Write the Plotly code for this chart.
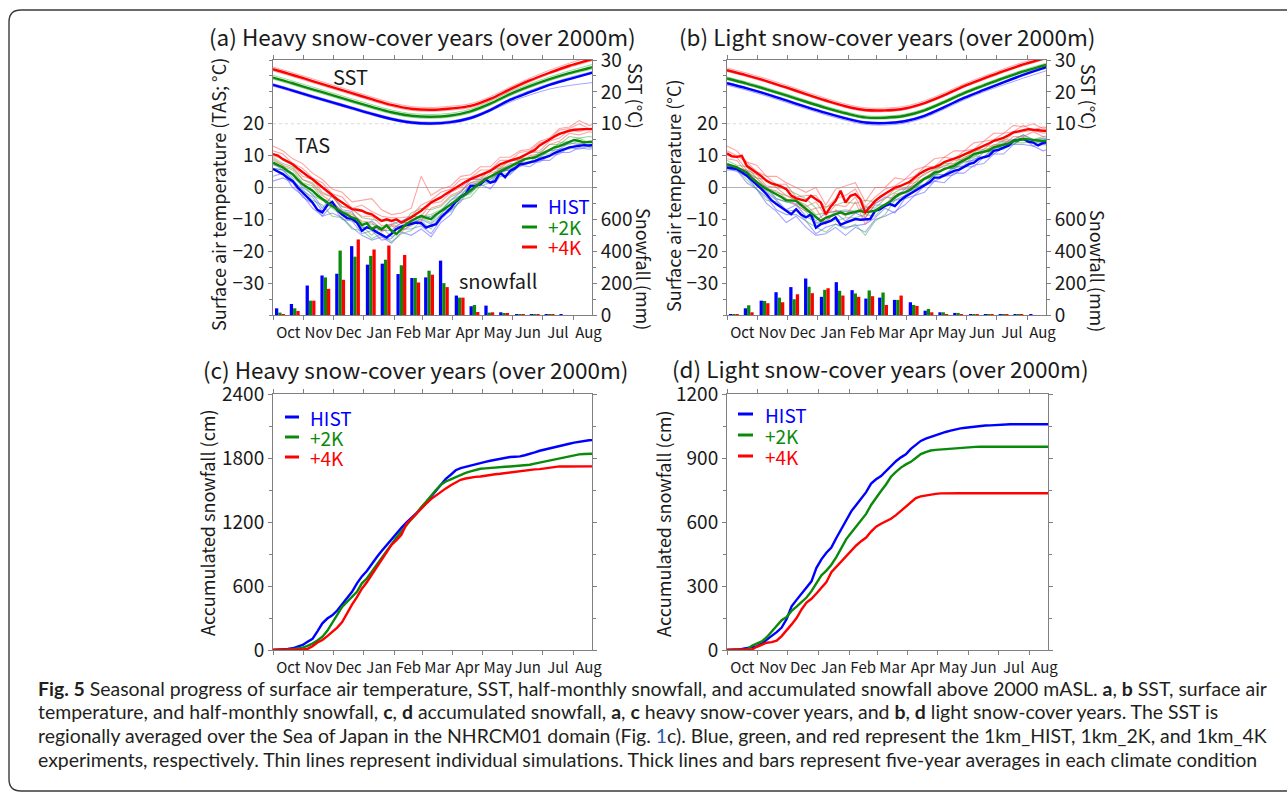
import plotly.graph_objects as go
import pandas as pd

W, H = 1287, 795
FONT = "Noto Sans CJK JP"
CAP_FONT = "Lato"
TXT = "#1a1a1a"
FRAME = "#808080"
BLUE, GREEN, RED = "#0000ff", "#0a8a0a", "#ff0000"
THIN_BLUE = "rgba(90,90,255,0.55)"
THIN_GREEN = "rgba(60,175,60,0.50)"
THIN_RED = "rgba(255,90,90,0.55)"

# ---------------- time coordinates ----------------
START = "2000-10-01"
X_RANGE = ["2000-10-01", "2001-08-20"]
DAYS5 = pd.date_range(START, periods=66, freq="5D")
DAYS10 = pd.date_range(START, periods=34, freq="10D")
DAYS20 = pd.date_range(START, periods=18, freq="20D")
HALF_MONTHS = pd.to_datetime([
    "2000-10-08", "2000-10-23", "2000-11-08", "2000-11-23", "2000-12-08", "2000-12-23",
    "2001-01-08", "2001-01-23", "2001-02-08", "2001-02-22", "2001-03-08", "2001-03-23",
    "2001-04-08", "2001-04-23", "2001-05-08", "2001-05-23", "2001-06-08", "2001-06-23",
    "2001-07-08", "2001-07-23", "2001-08-08"])
EXPERIMENTS = ["HIST", "+2K", "+4K"]

# ---------------- panel (a): heavy snow-cover years ----------------
TAS_A_HIST = [5.8, 5.0, 4.2, 3.0, 2.0, 0.0, -1.5, -3.0, -4.7, -7.0, -7.8, -5.5, -4.5, -7.0, -8.5, -9.6,
              -9.8, -11.0, -13.6, -12.5, -13.0, -14.0, -14.8, -15.7, -14.5, -13.0, -12.3, -11.8, -11.5,
              -11.0, -11.2, -12.6, -12.0, -11.5, -9.4, -7.8, -6.5, -4.5, -3.0, -2.0, 0.5, 0.6, 1.0, 2.6,
              1.5, 2.0, 4.7, 3.2, 5.2, 6.0, 7.3, 7.5, 7.8, 8.3, 8.9, 9.3, 9.9, 10.8, 11.5, 12.0, 12.6,
              12.8, 13.1, 13.3, 13.2, 13.4]
TAS_A_2K = [7.8, 7.0, 6.3, 5.2, 4.2, 2.5, 1.0, 0.0, -1.0, -2.5, -3.7, -4.8, -5.8, -6.8, -7.8, -8.5,
            -9.4, -10.0, -11.8, -11.2, -13.0, -12.2, -13.2, -11.8, -13.6, -14.6, -13.0, -11.5, -10.5,
            -9.8, -8.9, -9.5, -9.9, -8.5, -7.5, -6.3, -5.3, -4.2, -3.0, -2.1, -0.8, 0.5, 1.5, 2.6, 3.5,
            4.2, 5.0, 5.8, 6.5, 7.3, 8.0, 8.9, 9.2, 9.4, 10.2, 11.0, 11.8, 12.6, 13.0, 13.6, 14.2, 14.9,
            14.6, 14.1, 14.3, 14.4]
TAS_A_4K = [10.5, 10.0, 8.9, 8.0, 7.3, 6.0, 4.7, 3.6, 2.6, 1.3, 0.0, -1.3, -2.6, -3.7, -4.7, -5.8,
            -6.8, -7.0, -7.3, -8.0, -8.4, -9.5, -10.5, -10.0, -10.5, -10.0, -11.0, -10.2, -9.4, -8.3,
            -7.3, -6.0, -4.7, -3.9, -3.1, -2.0, -1.0, 0.0, 1.0, 1.8, 2.6, 3.3, 4.0, 4.6, 5.2, 6.3, 7.3,
            7.9, 8.4, 8.9, 9.4, 10.2, 11.0, 11.8, 13.2, 14.2, 15.2, 16.0, 16.8, 17.4, 17.8, 18.1, 18.3,
            18.3, 18.3, 18.3]

TAS_A_HIST_MEMBERS = [
    [3.5, 4.5, 0.0, -2.5, -6.5, -9.0, -8.0, -9.5, -12.5, -15.0, -16.5, -15.5, -17.5, -14.0, -15.0, -13.0, -15.5,
     -11.0, -8.5, -3.5, -1.5, 1.0, -0.5, 3.5, 4.0, 7.0, 6.5, 8.5, 8.5, 11.0, 11.0, 12.5, 12.0, 12.5],
    [7.5, 5.5, 4.0, 0.0, -2.0, -6.5, -2.5, -7.0, -7.5, -12.0, -10.5, -13.0, -11.5, -10.5, -9.0, -9.5, -9.0,
     -7.5, -4.0, -1.5, 2.5, 2.5, 3.5, 5.5, 7.0, 8.0, 9.5, 9.5, 11.5, 12.0, 14.0, 13.5, 14.5, 14.0],
    [2.0, 3.0, 1.5, -3.0, -5.0, -9.0, -5.5, -10.0, -10.5, -14.5, -13.5, -16.5, -16.0, -13.0, -13.0, -12.0, -14.5,
     -10.0, -7.0, -4.5, 0.0, 1.0, 2.5, 4.5, 6.0, 6.5, 8.0, 8.0, 10.0, 10.5, 12.5, 12.0, 13.0, 12.0],
    [6.0, 5.5, 2.5, -1.0, -3.0, -7.5, -4.5, -8.0, -9.5, -12.5, -12.5, -13.5, -13.5, -11.0, -11.0, -10.0, -11.5,
     -8.5, -5.0, -2.5, 1.0, 1.5, 1.5, 5.0, 5.5, 7.5, 8.0, 9.0, 10.0, 12.0, 12.5, 13.5, 13.0, 13.5],
]
TAS_A_2K_MEMBERS = [
    [6.0, 5.5, 2.0, -0.5, -4.0, -5.5, -9.0, -9.5, -13.0, -13.5, -16.0, -14.5, -17.0, -14.5, -13.5, -10.5, -13.0,
     -8.5, -7.5, -4.0, -3.0, 0.5, 1.5, 4.0, 4.5, 7.0, 7.5, 9.5, 10.0, 12.0, 12.0, 14.0, 12.5, 13.0],
    [9.5, 7.5, 6.5, 2.5, 1.5, -2.0, -3.0, -6.0, -6.5, -9.5, -10.0, -10.5, -10.5, -12.0, -8.0, -6.5, -7.0,
     -6.0, -3.0, -1.5, 1.5, 2.5, 5.5, 6.0, 8.5, 9.0, 11.0, 11.0, 13.5, 13.5, 16.0, 15.5, 16.0, 15.5],
    [8.5, 7.0, 3.0, 1.0, -2.5, -4.0, -6.5, -8.5, -10.5, -12.0, -15.0, -12.5, -15.5, -13.5, -12.0, -9.5, -11.0,
     -7.5, -6.5, -3.0, -2.0, 1.5, 2.5, 5.0, 5.5, 8.0, 8.0, 10.5, 10.5, 13.0, 13.5, 14.5, 14.0, 14.5],
    [7.0, 6.5, 5.5, 1.5, 0.5, -3.5, -4.5, -7.5, -8.0, -11.0, -11.5, -12.5, -12.0, -12.5, -9.0, -9.0, -8.5,
     -7.0, -4.0, -2.5, 0.5, 2.0, 3.5, 6.0, 6.5, 9.0, 9.0, 11.0, 11.5, 14.0, 14.5, 15.5, 14.0, 14.5],
]
TAS_A_4K_MEMBERS = [
    [13.0, 11.5, 9.0, 7.5, 4.5, 2.5, -0.5, -1.5, -4.5, -4.0, -3.5, -7.0, -8.5, -8.0, -6.5, 3.5, -2.5,
     -0.5, 0.5, 3.5, 4.0, 6.5, 6.5, 9.5, 9.5, 11.5, 12.0, 14.5, 15.5, 18.5, 19.0, 21.0, 19.5, 20.0],
    [9.0, 7.0, 6.0, 2.5, 1.0, -2.5, -4.5, -7.5, -8.5, -10.5, -11.0, -14.0, -12.0, -14.0, -11.5, -10.5, -6.5,
     -5.5, -2.5, -1.0, 1.5, 2.0, 4.5, 5.5, 7.5, 7.5, 10.0, 10.5, 13.5, 14.5, 17.0, 16.5, 17.5, 17.0],
    [11.5, 10.5, 7.5, 6.0, 3.0, 1.5, -2.0, -3.0, -6.5, -5.5, -7.5, -9.0, -9.5, -9.5, -9.0, -5.5, -4.0,
     -1.5, -0.5, 2.5, 3.0, 5.5, 5.5, 8.5, 8.5, 11.0, 11.5, 14.0, 15.0, 18.0, 18.5, 20.0, 18.5, 19.0],
    [10.0, 9.0, 7.0, 3.5, 2.5, -1.5, -3.0, -6.0, -7.0, -9.0, -9.0, -12.0, -11.5, -12.5, -10.0, -9.0, -5.0,
     -4.5, -1.5, 0.0, 2.5, 3.0, 5.5, 6.5, 8.5, 8.5, 11.0, 11.5, 14.5, 15.5, 18.0, 17.5, 18.5, 18.5],
]

SST_A_HIST = [22.2, 20.4, 18.5, 16.7, 14.9, 13.1, 11.5, 10.4, 10.1, 10.5, 11.8, 14.3, 17.5, 19.9, 22.2, 24.0, 25.7, 27.5]
SST_A_2K = [24.5, 22.7, 20.8, 19.0, 17.1, 15.3, 13.6, 12.5, 12.2, 12.6, 13.9, 16.3, 19.3, 21.8, 24.0, 25.9, 27.5, 29.2]
SST_A_4K = [27.1, 25.3, 23.4, 21.5, 19.6, 17.7, 15.9, 14.7, 14.4, 14.8, 15.6, 17.8, 20.8, 23.6, 26.0, 28.2, 30.0, 31.8]
SST_A_HIST_MEMBERS = [
    [21.8, 20.0, 18.1, 16.3, 14.5, 12.7, 11.1, 10.0, 9.7, 10.1, 11.4, 13.9, 16.8, 19.0, 20.9, 22.0, 22.8, 23.6],
    [22.6, 20.8, 18.9, 17.1, 15.3, 13.5, 11.9, 10.8, 10.5, 10.9, 12.2, 14.7, 17.9, 20.4, 22.6, 24.5, 26.1, 27.8],
]
SST_A_2K_MEMBERS = [
    [25.2, 23.4, 21.5, 19.7, 17.8, 16.0, 14.3, 13.2, 12.9, 13.3, 14.6, 17.0, 20.0, 22.5, 24.7, 26.6, 28.3, 30.0],
    [24.0, 22.2, 20.3, 18.5, 16.6, 14.8, 13.1, 12.0, 11.7, 12.1, 13.4, 15.8, 18.8, 21.3, 23.5, 25.4, 26.9, 28.5],
]
SST_A_4K_MEMBERS = [
    [27.8, 26.0, 24.1, 22.2, 20.3, 18.4, 16.6, 15.4, 15.1, 15.5, 16.3, 18.5, 21.5, 24.3, 26.8, 29.0, 30.8, 32.5],
    [26.6, 24.8, 22.9, 21.0, 19.1, 17.2, 15.4, 14.2, 13.9, 14.3, 15.1, 17.3, 20.3, 23.1, 25.6, 27.7, 29.5, 31.2],
]

SNOW_A_HIST = [42, 69, 185, 248, 259, 432, 316, 322, 257, 232, 236, 341, 122, 55, 59, 17, 4, 2, 1, 1, 0]
SNOW_A_2K = [15, 42, 90, 236, 404, 366, 371, 347, 312, 232, 278, 200, 109, 63, 15, 8, 3, 1, 1, 0, 0]
SNOW_A_4K = [4, 25, 90, 164, 221, 474, 411, 436, 377, 204, 253, 175, 109, 19, 17, 8, 3, 2, 1, 0, 0]

# ---------------- panel (b): light snow-cover years ----------------
TAS_B_HIST = [6.3, 6.0, 5.8, 4.8, 3.7, 2.3, 1.0, -0.5, -2.1, -4.0, -5.2, -6.3, -7.5, -8.4, -6.8, -8.5,
              -9.4, -8.4, -12.6, -11.5, -11.0, -10.5, -9.4, -11.7, -11.0, -10.5, -9.9, -10.1, -10.0, -9.9,
              -7.3, -6.8, -5.8, -5.2, -5.8, -4.2, -3.0, -2.1, -1.0, -0.2, 0.8, 1.6, 3.1, 3.1, 3.8, 4.5,
              5.2, 5.6, 6.5, 7.3, 7.8, 9.0, 9.5, 9.9, 11.5, 11.8, 12.5, 13.1, 14.6, 15.0, 15.2, 14.4,
              14.1, 13.2, 14.0, 14.2]
TAS_B_2K = [7.3, 6.8, 6.3, 5.5, 4.7, 3.0, 1.6, 0.5, -0.5, -1.3, -2.1, -3.0, -4.0, -4.2, -4.2, -5.5,
            -6.8, -7.8, -9.4, -10.5, -9.5, -8.9, -8.4, -7.8, -8.4, -8.0, -7.8, -7.3, -7.8, -7.5, -7.3,
            -6.3, -5.5, -4.5, -3.0, -2.0, -1.5, -0.8, 0.5, 1.8, 2.8, 3.5, 4.7, 5.0, 5.8, 6.3, 6.8, 7.8,
            8.6, 9.4, 10.5, 10.8, 11.2, 11.6, 12.6, 13.0, 13.3, 13.8, 14.6, 15.0, 15.2, 15.1, 14.9,
            14.6, 14.6, 14.7]
TAS_B_4K = [10.7, 9.8, 9.6, 9.9, 6.8, 5.7, 4.5, 3.5, 2.1, 1.3, 0.8, 0.3, -0.5, -2.5, -3.4, -3.7, -4.2,
            -2.6, -3.8, -4.7, -8.4, -6.0, -4.2, -1.0, -4.7, -2.6, -2.1, -3.7, -7.8, -6.0, -4.2, -3.0,
            -2.0, -1.2, 0.0, 0.4, 1.0, 1.8, 3.1, 4.3, 5.2, 5.9, 6.3, 7.0, 8.0, 8.5, 8.9, 9.6, 10.3,
            11.0, 11.5, 12.3, 13.0, 13.8, 14.6, 15.0, 15.6, 16.4, 17.3, 17.6, 18.0, 18.3, 18.1, 17.9,
            17.8, 17.8]

TAS_B_HIST_MEMBERS = [
    [5.5, 5.5, 1.5, -0.5, -5.0, -7.5, -11.0, -9.0, -12.5, -15.0, -14.5, -12.5, -15.0, -12.5, -14.0, -10.0, -9.0,
     -7.5, -5.5, -2.5, -1.5, 2.0, 1.5, 4.5, 4.5, 7.0, 7.5, 10.5, 10.5, 13.5, 13.5, 13.0, 11.5, 12.5],
    [7.0, 6.0, 5.5, 2.0, 0.0, -3.5, -4.5, -5.0, -6.5, -10.5, -8.0, -7.5, -7.5, -7.5, -6.5, -5.0, -3.0,
     -3.5, -0.5, 0.0, 2.5, 4.0, 6.0, 6.0, 8.0, 8.5, 11.0, 12.0, 14.0, 15.0, 16.5, 15.0, 15.5, 15.0],
    [6.0, 5.0, 3.5, -0.5, -3.0, -7.0, -8.5, -8.5, -10.5, -14.5, -12.5, -11.5, -12.5, -12.0, -11.5, -9.5, -6.5,
     -8.0, -3.5, -2.5, 0.5, 2.0, 3.5, 4.0, 6.5, 6.5, 9.5, 10.5, 12.5, 13.5, 15.5, 13.0, 13.5, 13.0],
    [6.5, 6.5, 4.0, 2.0, -1.5, -4.0, -7.0, -5.5, -9.0, -11.0, -10.5, -8.0, -10.5, -8.0, -9.5, -5.5, -5.5,
     -4.0, -2.5, 0.0, 1.0, 4.0, 4.0, 6.5, 6.5, 9.0, 9.5, 12.5, 12.5, 15.0, 15.0, 15.0, 14.0, 14.5],
]
TAS_B_2K_MEMBERS = [
    [6.0, 5.5, 2.5, -0.5, -4.0, -4.5, -7.5, -7.0, -10.5, -12.5, -14.0, -11.5, -13.0, -11.5, -15.0, -10.5, -8.5,
     -4.0, -3.5, -0.5, 1.0, 4.0, 4.0, 6.0, 7.0, 10.0, 9.5, 12.0, 12.0, 14.0, 14.0, 14.5, 13.5, 14.0],
    [8.5, 7.0, 6.5, 3.0, 2.5, 0.0, -0.5, -2.0, -3.5, -6.5, -6.0, -5.5, -4.5, -5.0, -4.0, -4.5, -2.0,
     -0.5, 1.0, 1.5, 4.5, 5.5, 7.5, 7.5, 10.5, 11.0, 13.0, 13.0, 15.0, 15.0, 16.5, 15.0, 16.0, 15.5],
    [7.0, 6.0, 4.5, 0.5, -1.0, -3.5, -4.5, -5.5, -7.5, -11.5, -10.5, -10.5, -9.5, -9.5, -8.5, -9.0, -5.5,
     -3.5, -1.5, -0.5, 2.5, 3.5, 6.0, 6.0, 8.5, 9.5, 11.5, 11.5, 13.5, 13.5, 15.5, 14.0, 14.5, 14.0],
    [7.5, 6.5, 5.0, 3.0, 0.0, -1.5, -2.5, -4.0, -5.5, -8.5, -8.0, -7.5, -7.0, -7.5, -6.0, -6.5, -3.5,
     -1.5, 0.0, 0.5, 3.0, 5.0, 7.0, 7.0, 9.5, 10.5, 12.0, 12.5, 14.5, 14.5, 16.0, 14.5, 15.0, 15.0],
]
TAS_B_4K_MEMBERS = [
    [13.0, 11.5, 8.0, 7.0, 3.5, 3.5, 1.5, 0.0, -1.5, 0.0, -5.5, -0.5, 0.5, 1.5, -4.5, 0.0, 0.0,
     3.0, 2.5, 5.5, 6.5, 9.0, 9.5, 11.5, 11.5, 14.0, 14.5, 17.0, 17.0, 19.5, 19.0, 20.0, 18.5, 19.0],
    [9.0, 8.5, 4.5, 3.0, -0.5, -1.0, -3.5, -5.5, -7.5, -6.5, -11.5, -7.0, -9.0, -4.5, -11.5, -7.0, -5.5,
     -2.0, -1.5, 1.5, 3.0, 5.0, 5.5, 7.5, 8.0, 10.5, 11.0, 13.5, 13.5, 16.0, 16.0, 17.5, 16.0, 16.5],
    [11.5, 10.0, 8.0, 5.0, 3.5, 1.0, 1.0, -3.0, -2.5, -2.5, -6.5, -3.5, -2.5, -0.5, -6.0, -3.0, -0.5,
     0.5, 2.5, 3.5, 6.5, 6.5, 9.5, 9.0, 11.5, 12.0, 14.5, 15.0, 17.0, 17.5, 19.5, 18.0, 19.0, 18.5],
    [10.0, 9.5, 5.5, 4.0, 0.5, 0.0, -2.5, -4.0, -6.0, -4.5, -9.0, -5.5, -6.0, -3.0, -9.5, -5.0, -3.5,
     -0.5, -0.5, 2.5, 4.0, 6.0, 6.5, 8.5, 9.0, 11.5, 12.0, 14.5, 14.5, 17.0, 17.5, 18.0, 17.0, 17.5],
]

SST_B_HIST = [22.7, 21.1, 19.3, 17.3, 15.3, 13.4, 11.7, 10.4, 10.2, 10.8, 12.5, 15.2, 18.1, 20.6, 23.0, 25.3, 27.4, 29.4]
SST_B_2K = [24.2, 22.6, 20.8, 18.9, 16.9, 15.0, 13.3, 12.0, 11.9, 12.5, 14.2, 16.8, 19.6, 22.0, 24.3, 26.4, 28.2, 30.0]
SST_B_4K = [26.8, 25.2, 23.4, 21.4, 19.3, 17.3, 15.5, 14.3, 14.2, 14.8, 16.5, 19.0, 21.8, 24.2, 26.5, 28.6, 30.4, 32.2]
SST_B_HIST_MEMBERS = [
    [22.1, 20.5, 18.7, 16.7, 14.7, 12.8, 11.1, 9.8, 9.6, 10.2, 11.9, 14.6, 17.5, 20.0, 22.2, 24.3, 26.3, 28.2],
    [23.0, 21.4, 19.6, 17.6, 15.6, 13.7, 12.0, 10.7, 10.5, 11.1, 12.8, 15.5, 18.4, 20.9, 23.3, 25.6, 27.7, 29.7],
]
SST_B_2K_MEMBERS = [
    [24.7, 23.1, 21.3, 19.4, 17.4, 15.5, 13.8, 12.5, 12.4, 13.0, 14.7, 17.3, 20.1, 22.5, 24.8, 26.9, 28.7, 30.5],
    [23.8, 22.2, 20.4, 18.5, 16.5, 14.6, 12.9, 11.6, 11.5, 12.1, 13.8, 16.4, 19.2, 21.6, 23.9, 26.0, 27.8, 29.6],
]
SST_B_4K_MEMBERS = [
    [27.5, 25.9, 24.1, 22.1, 20.0, 18.0, 16.2, 15.0, 14.9, 15.5, 17.2, 19.7, 22.5, 24.9, 27.2, 29.3, 31.1, 32.9],
    [26.4, 24.8, 23.0, 21.0, 18.9, 16.9, 15.1, 13.9, 13.8, 14.4, 16.1, 18.6, 21.4, 23.8, 26.1, 28.2, 30.0, 31.8],
]

SNOW_B_HIST = [6, 42, 90, 143, 175, 229, 114, 206, 156, 103, 109, 95, 80, 27, 17, 13, 6, 3, 2, 1, 1]
SNOW_B_2K = [2, 61, 88, 109, 99, 177, 158, 152, 135, 154, 141, 95, 63, 38, 17, 13, 4, 2, 1, 1, 0]
SNOW_B_4K = [2, 17, 74, 80, 130, 137, 168, 122, 114, 118, 63, 122, 57, 17, 6, 6, 3, 2, 1, 1, 0]

# ---------------- panel (c): accumulated snowfall, heavy years ----------------
ACC_C_HIST = [0, 2, 6, 10, 16, 28, 47, 78, 105, 175, 250, 295, 325, 370, 430, 482, 545, 625, 690, 740,
              810, 870, 928, 985, 1040, 1090, 1145, 1195, 1235, 1280, 1330, 1375, 1437, 1495, 1555, 1605,
              1643, 1685, 1705, 1718, 1730, 1741, 1752, 1763, 1774, 1784, 1793, 1801, 1809, 1812, 1815,
              1826, 1837, 1852, 1868, 1880, 1893, 1904, 1915, 1925, 1934, 1944, 1953, 1960, 1966, 1968]
ACC_C_2K = [0, 0, 2, 4, 8, 14, 22, 38, 60, 90, 125, 180, 260, 330, 405, 455, 495, 545, 625, 670, 735,
            800, 860, 930, 995, 1055, 1110, 1170, 1225, 1275, 1339, 1390, 1448, 1500, 1549, 1580, 1600,
            1620, 1643, 1660, 1674, 1688, 1699, 1703, 1705, 1710, 1715, 1718, 1721, 1724, 1727, 1732,
            1737, 1748, 1758, 1768, 1777, 1788, 1799, 1810, 1821, 1828, 1834, 1838, 1840, 1841]
ACC_C_4K = [0, 0, 1, 2, 3, 4, 5, 10, 35, 70, 94, 130, 170, 210, 262, 345, 425, 495, 575, 635, 705, 775,
            845, 915, 985, 1030, 1080, 1180, 1230, 1270, 1320, 1372, 1415, 1450, 1486, 1515, 1545, 1572,
            1596, 1608, 1618, 1623, 1627, 1636, 1643, 1648, 1652, 1658, 1665, 1672, 1680, 1685, 1690,
            1693, 1696, 1704, 1712, 1717, 1721, 1721, 1722, 1722, 1722, 1722, 1722, 1722]

# ---------------- panel (d): accumulated snowfall, light years ----------------
ACC_D_HIST = [0, 0, 2, 5, 8, 11, 17, 30, 50, 66, 84, 105, 145, 205, 235, 265, 292, 322, 385, 425, 456,
              480, 525, 568, 605, 650, 680, 712, 740, 780, 800, 815, 840, 865, 885, 903, 917, 943, 962,
              980, 991, 999, 1008, 1015, 1022, 1028, 1034, 1039, 1042, 1045, 1047, 1050, 1052, 1053, 1055,
              1056, 1057, 1058, 1058, 1058, 1058, 1058, 1058, 1058, 1058, 1058]
ACC_D_2K = [0, 0, 0, 1, 3, 20, 30, 40, 60, 88, 112, 140, 155, 183, 203, 225, 246, 276, 310, 350, 372,
            400, 435, 480, 520, 550, 580, 610, 638, 680, 715, 745, 776, 812, 835, 855, 870, 882, 900, 918,
            928, 935, 938, 940, 942, 944, 947, 949, 950, 951, 952, 953, 953, 953, 953, 953, 953, 953, 953,
            953, 953, 953, 953, 953, 953, 953]
ACC_D_4K = [0, 0, 0, 0, 0, 2, 15, 25, 34, 37, 44, 65, 90, 120, 150, 190, 222, 240, 265, 292, 318, 365,
            390, 420, 440, 465, 490, 510, 527, 555, 578, 592, 603, 615, 632, 652, 668, 692, 712, 720, 725,
            730, 732, 734, 735, 735, 735, 735, 735, 735, 735, 735, 735, 735, 735, 735, 735, 735, 735, 735,
            735, 735, 735, 735, 735, 735]

TAS_TICKS = [-30, -20, -10, 0, 10, 20]
SST_TICKS = [10, 20, 30]
SNOW_TICKS = [0, 200, 400, 600]
ACC_C_TICKS = [0, 600, 1200, 1800, 2400]
ACC_D_TICKS = [0, 300, 600, 900, 1200]

# ---------------- figure ----------------
fig = go.Figure()


def add_line(x, y, color, width, xa, ya, shape="linear"):
    fig.add_trace(go.Scatter(x=x, y=y, mode="lines", xaxis=xa, yaxis=ya,
                             line=dict(color=color, width=width, shape=shape),
                             showlegend=False, hoverinfo="skip"))


BAR_W = 3.33 * 86400000
BAR_OFFSETS = [-1.5 * BAR_W, -0.5 * BAR_W, 0.5 * BAR_W]


def add_panel_top(xa, ya_tas, ya_sst, ya_snow, sst, sst_members, tas, tas_members, snow):
    thin = [THIN_BLUE, THIN_GREEN, THIN_RED]
    thick = [BLUE, GREEN, RED]
    for k in range(3):
        for m in sst_members[k]:
            add_line(DAYS20, m, thin[k], 1, xa, ya_sst, "spline")
    for k in range(3):
        add_line(DAYS20, sst[k], thick[k], 2.4, xa, ya_sst, "spline")
    for k in range(3):
        for m in tas_members[k]:
            add_line(DAYS10, m, thin[k], 1.1, xa, ya_tas)
    for k in range(3):
        add_line(DAYS5, tas[k], thick[k], 2.4, xa, ya_tas)
    for k in range(3):
        fig.add_trace(go.Bar(x=HALF_MONTHS, y=snow[k], width=BAR_W, offset=BAR_OFFSETS[k],
                             marker=dict(color=thick[k], line=dict(width=0)), xaxis=xa, yaxis=ya_snow,
                             showlegend=False, hoverinfo="skip", name=EXPERIMENTS[k]))


add_panel_top("x", "y", "y2", "y3",
              [SST_A_HIST, SST_A_2K, SST_A_4K],
              [SST_A_HIST_MEMBERS, SST_A_2K_MEMBERS, SST_A_4K_MEMBERS],
              [TAS_A_HIST, TAS_A_2K, TAS_A_4K],
              [TAS_A_HIST_MEMBERS, TAS_A_2K_MEMBERS, TAS_A_4K_MEMBERS],
              [SNOW_A_HIST, SNOW_A_2K, SNOW_A_4K])
add_panel_top("x2", "y4", "y5", "y6",
              [SST_B_HIST, SST_B_2K, SST_B_4K],
              [SST_B_HIST_MEMBERS, SST_B_2K_MEMBERS, SST_B_4K_MEMBERS],
              [TAS_B_HIST, TAS_B_2K, TAS_B_4K],
              [TAS_B_HIST_MEMBERS, TAS_B_2K_MEMBERS, TAS_B_4K_MEMBERS],
              [SNOW_B_HIST, SNOW_B_2K, SNOW_B_4K])

for acc, xa, ya in [([ACC_C_HIST, ACC_C_2K, ACC_C_4K], "x3", "y7"),
                    ([ACC_D_HIST, ACC_D_2K, ACC_D_4K], "x4", "y8")]:
    for k, col in enumerate([BLUE, GREEN, RED]):
        add_line(DAYS5, acc[k], col, 2.4, xa, ya)


def px(x):
    return x / W


def py(y):
    return 1 - y / H


TICKFONT = dict(family=FONT, size=19, color=TXT)


def xaxis(dom, anchor):
    return dict(domain=[px(dom[0]), px(dom[1])], anchor=anchor, type="date", range=X_RANGE,
                dtick="M1", tick0="2000-10-01", tickformat="%b", ticklabelmode="period",
                tickangle=0, ticks="outside", ticklen=4, tickcolor=FRAME, showline=True,
                linecolor=FRAME, linewidth=1, mirror="allticks", showgrid=False, zeroline=False,
                automargin=False, tickfont=dict(family=FONT, size=15, color=TXT))


def yaxis_main(dom, anchor, rng, vals, minor_dtick, zeroline=False):
    return dict(domain=[py(dom[1]), py(dom[0])], anchor=anchor, range=rng, tickmode="array",
                tickvals=vals, ticks="outside", ticklen=4, tickcolor=FRAME, showline=True,
                linecolor=FRAME, linewidth=1, mirror="allticks", showgrid=False,
                zeroline=zeroline, zerolinecolor="#b4b4b4", zerolinewidth=1, automargin=False,
                minor=dict(tickmode="linear", tick0=rng[0], dtick=minor_dtick, ticks="outside",
                           ticklen=3, tickcolor=FRAME),
                tickfont=TICKFONT)


def yaxis_right(anchor, over, rng, vals):
    return dict(anchor=anchor, overlaying=over, side="right", range=rng, tickmode="array",
                tickvals=vals, ticks="outside", ticklen=4, tickcolor=FRAME, showline=False,
                showgrid=False, zeroline=False, automargin=False, tickfont=TICKFONT)


TOP = (60, 315)
BOT = (394, 650)
fig.update_layout(
    width=W, height=H, autosize=False,
    margin=dict(l=0, r=0, t=0, b=0, pad=0, autoexpand=False),
    paper_bgcolor="white", plot_bgcolor="white", barmode="overlay", showlegend=False,
    font=dict(family=FONT, color=TXT),
    xaxis=xaxis((273, 592), "y"),
    yaxis=yaxis_main(TOP, "x", [-40, 40], TAS_TICKS, 5, zeroline=True),
    yaxis2=yaxis_right("x", "y", [-50, 30], SST_TICKS),
    yaxis3=yaxis_right("x", "y", [0, 1600], SNOW_TICKS),
    xaxis2=xaxis((727, 1046), "y4"),
    yaxis4=yaxis_main(TOP, "x2", [-40, 40], TAS_TICKS, 5, zeroline=True),
    yaxis5=yaxis_right("x2", "y4", [-50, 30], SST_TICKS),
    yaxis6=yaxis_right("x2", "y4", [0, 1600], SNOW_TICKS),
    xaxis3=xaxis((273, 592), "y7"),
    yaxis7=yaxis_main(BOT, "x3", [0, 2400], ACC_C_TICKS, 300),
    xaxis4=xaxis((727, 1048), "y8"),
    yaxis8=yaxis_main(BOT, "x4", [0, 1200], ACC_D_TICKS, 150),
)

# faint reference line at TAS = 20 (SST = 10)
for xr, yr in [("x domain", "y"), ("x2 domain", "y4")]:
    fig.add_shape(type="line", xref=xr, yref=yr, x0=0, x1=1, y0=20, y1=20,
                  line=dict(color="#d8d8d8", width=1, dash="dot"), layer="below")


def ann(text, x, y, size, color=TXT, angle=0, xanchor="center", family=FONT):
    fig.add_annotation(text=text, x=px(x), y=py(y), xref="paper", yref="paper", showarrow=False,
                       textangle=angle, xanchor=xanchor, yanchor="middle",
                       font=dict(family=family, size=size, color=color))


# panel titles
ann("(a) Heavy snow-cover years (over 2000m)", 423, 36, 22.5)
ann("(b) Light snow-cover years (over 2000m)", 887, 36, 22.5)
ann("(c) Heavy snow-cover years (over 2000m)", 415, 369, 22.5)
ann("(d) Light snow-cover years (over 2000m)", 881, 368, 22.5)

# axis titles
ann("Surface air temperature (TAS; °C)", 218, 195, 18, angle=-90)
ann("Surface air temperature (°C)", 673, 196, 18, angle=-90)
ann("SST (°C)", 636, 96, 18, angle=90)
ann("Snowfall (mm)", 644, 269, 18, angle=90)
ann("SST (°C)", 1089, 97, 18, angle=90)
ann("Snowfall (mm)", 1098, 271, 18, angle=90)
ann("Accumulated snowfall (cm)", 207, 523, 18, angle=-90)
ann("Accumulated snowfall (cm)", 663, 524, 18, angle=-90)

# in-plot labels
ann("SST", 350, 77, 20)
ann("TAS", 312, 145, 20)
ann("snowfall", 498, 281, 20)

# legends (short line + coloured text)
for (lx0, lx1, tx, ys) in [(522, 537, 546, (206, 227, 247)),
                           (285, 299, 308, (417, 437, 457)),
                           (738, 753, 763, (414, 435, 456))]:
    for name, col, yy in zip(EXPERIMENTS, [BLUE, GREEN, RED], ys):
        fig.add_shape(type="line", xref="paper", yref="paper", x0=px(lx0), x1=px(lx1),
                      y0=py(yy), y1=py(yy), line=dict(color=col, width=3))
        ann(name, tx, yy, 19, color=col, xanchor="left")

# caption
CAPTION = [
    "<b>Fig. 5</b> Seasonal progress of surface air temperature, SST, half-monthly snowfall, and accumulated snowfall above 2000 mASL. <b>a</b>, <b>b</b> SST, surface air",
    "temperature, and half-monthly snowfall, <b>c</b>, <b>d</b> accumulated snowfall, <b>a</b>, <b>c</b> heavy snow-cover years, and <b>b</b>, <b>d</b> light snow-cover years. The SST is",
    "regionally averaged over the Sea of Japan in the NHRCM01 domain (Fig. <span style='color:#2a5db0'>1</span>c). Blue, green, and red represent the 1km_HIST, 1km_2K, and 1km_4K",
    "experiments, respectively. Thin lines represent individual simulations. Thick lines and bars represent five-year averages in each climate condition",
]
for line_text, yy in zip(CAPTION, [688, 711, 735, 759]):
    ann(line_text, 36, yy, 19.45, color="#231f20", xanchor="left", family=CAP_FONT)

# rounded frame around the figure
fig.add_shape(type="path", xref="paper", yref="paper",
              path=(f"M 1.02,{py(10)} L {px(21)},{py(10)} Q {px(9)},{py(10)} {px(9)},{py(22)} "
                    f"L {px(9)},{py(779)} Q {px(9)},{py(791)} {px(21)},{py(791)} L 1.02,{py(791)}"),
              line=dict(color="#3a3a3a", width=1.4))

fig.write_html("out.html", post_script="document.body.style.margin='0';document.body.style.overflow='hidden';")
